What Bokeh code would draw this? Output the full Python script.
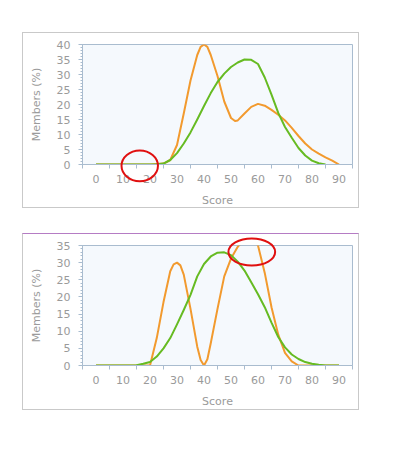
import numpy as np
from bokeh.plotting import figure
from bokeh.layouts import column, row
from bokeh.models import Range1d, FixedTicker, SingleIntervalTicker, Spacer, GridBox
from bokeh.embed import file_html
from bokeh.resources import INLINE

# ---------------- data ----------------
score_ticks = [0, 10, 20, 30, 40, 50, 60, 70, 80, 90]
score_minor = [-5, 5, 15, 25, 35, 45, 55, 65, 75, 85, 95]

top_orange_x = [0, 10, 20, 25, 27.5, 30, 32.5, 35, 37.5, 38.75, 40, 41.25, 42.5, 45, 47.5, 50,
                51.5, 52.5, 55, 57.5, 60, 62.5, 65, 67.5, 70, 72.5, 75, 77.5, 80, 82.5, 85, 87.5, 90]
top_orange_y = [0, 0, 0, 0.3, 1.5, 6.5, 17, 28, 36.5, 39.2, 40, 39.2, 36.5, 29.5, 21, 15.5,
                14.5, 14.7, 17, 19.2, 20.2, 19.6, 18.2, 16.6, 14.7, 12.2, 9.5, 7, 5, 3.6, 2.4, 1.3, 0]

top_green_x = [0, 10, 20, 22.5, 25, 27.5, 30, 32.5, 35, 37.5, 40, 42.5, 45, 47.5, 50, 52.5,
               55, 57.5, 60, 62.5, 65, 67.5, 70, 72.5, 75, 77.5, 80, 82.5, 85]
top_green_y = [0, 0, 0, 0.1, 0.3, 1.5, 3.8, 7, 10.7, 15, 19.5, 23.8, 27.5, 30.3, 32.5, 34,
               35, 34.9, 33.5, 29, 23.3, 17.2, 12.5, 8.9, 5.5, 3, 1.3, 0.4, 0]

bot_orange_x = [0, 10, 20, 22.5, 25, 27.5, 28.75, 30, 31.25, 32.5, 35, 37.5, 38.75, 40, 41.25,
                42.5, 45, 47.5, 50, 52.5, 55, 57.5, 60, 62.5, 65, 67.5, 70, 72.5, 75, 80, 90]
bot_orange_y = [0, 0, 0, 8, 18.5, 27.5, 29.5, 30, 29.2, 26.5, 16.5, 5.5, 1.6, 0, 1.8,
                6.5, 16.5, 26, 31.2, 34.6, 37, 37.5, 35, 27, 17, 9, 3.7, 1.2, 0, 0, 0]

bot_green_x = [0, 10, 15, 17.5, 20, 22.5, 25, 27.5, 30, 32.5, 35, 37.5, 40, 42.5, 45, 47.5,
               50, 52.5, 55, 57.5, 60, 62.5, 65, 67.5, 70, 72.5, 75, 77.5, 80, 82.5, 85, 90]
bot_green_y = [0, 0, 0.1, 0.5, 1, 2.6, 5, 8, 12, 16.2, 20.6, 26, 29.6, 31.8, 32.9, 33,
               32.2, 30.3, 27.7, 24.3, 20.8, 17, 12.5, 8.3, 5.3, 3.2, 1.9, 1, 0.5, 0.2, 0, 0]

# highlight ellipses (center x, center y, width, height in data units)
top_mark = (16.2, -0.45, 13.5, 10.2)
bot_mark = (57.7, 33.7, 17.3, 7.9)

ORANGE = "#f29a2e"
GREEN = "#66bb22"
AXIS = "#a9bccf"
TEXT = "#9a9a9a"
FONT = "DejaVu Sans"

# ---------------- geometry ----------------
PAD_L, PAD_T, GAP = 22, 32, 25
CW = 337                      # canvas width (plus 1px border each side)
H1, H2 = 176, 177             # canvas heights
BL, BR, BT = 59, 8, 11        # frame offsets inside canvas
FW, FH = CW - BL - BR, 120
XMIN, XMAX = -5, 95


def make_panel(ox, oy, gx, gy, ymax, height, border_top):
    p = figure(width=CW, height=height, output_backend="svg", toolbar_location=None,
               x_range=Range1d(XMIN, XMAX), y_range=Range1d(0, ymax),
               min_border_left=BL, min_border_right=BR, min_border_top=BT,
               min_border_bottom=height - BT - FH,
               background_fill_color="#f5f9fd", border_fill_color="white",
               outline_line_color=AXIS, outline_line_width=1,
               styles={"border": "1px solid #c9c9c9", "border-top": "1px solid " + border_top})
    p.xgrid.visible = False
    p.ygrid.visible = False

    xa = p.xaxis[0]
    xa.ticker = FixedTicker(ticks=score_ticks, minor_ticks=score_minor)
    xa.major_tick_out = 0
    xa.major_tick_in = 0
    xa.minor_tick_out = 4
    xa.minor_tick_in = 0
    xa.minor_tick_line_color = AXIS
    xa.axis_line_color = AXIS
    xa.major_label_standoff = 6
    xa.axis_label = "Score"
    xa.axis_label_standoff = 8

    ya = p.yaxis[0]
    ya.ticker = SingleIntervalTicker(interval=5, num_minor_ticks=5)
    ya.major_tick_out = 4
    ya.major_tick_in = 0
    ya.minor_tick_out = 2
    ya.minor_tick_in = 0
    ya.major_tick_line_color = AXIS
    ya.minor_tick_line_color = AXIS
    ya.axis_line_color = AXIS
    ya.major_label_standoff = 8
    ya.axis_label = "Members (%)"
    ya.axis_label_standoff = 11

    for ax in (xa, ya):
        ax.major_label_text_font = FONT
        ax.major_label_text_font_size = "11px"
        ax.major_label_text_color = TEXT
        ax.axis_label_text_font = FONT
        ax.axis_label_text_font_size = "11px"
        ax.axis_label_text_font_style = "normal"
        ax.axis_label_text_color = TEXT

    p.line(ox, oy, line_color=ORANGE, line_width=2, line_join="round")
    p.line(gx, gy, line_color=GREEN, line_width=2, line_join="round")
    return p


p1 = make_panel(top_orange_x, top_orange_y, top_green_x, top_green_y, 40, H1, "#c9c9c9")
p2 = make_panel(bot_orange_x, bot_orange_y, bot_green_x, bot_green_y, 35, H2, "#b57cc4")

main = column(Spacer(height=PAD_T),
              row(Spacer(width=PAD_L), p1),
              Spacer(height=GAP),
              row(Spacer(width=PAD_L), p2))

# ---------------- overlay for highlight ellipses (not clipped to frames) ----------------
TOTW = PAD_L + CW + 2
TOTH = PAD_T + H1 + 2 + GAP + H2 + 2
ov = figure(width=TOTW, height=TOTH, output_backend="svg", toolbar_location=None,
            x_range=Range1d(0, TOTW), y_range=Range1d(TOTH, 0),
            min_border=0, x_axis_location=None, y_axis_location=None,
            background_fill_alpha=0, border_fill_alpha=0, outline_line_color=None)
ov.xgrid.visible = False
ov.ygrid.visible = False

frames = [(PAD_T + 1 + BT, 40, top_mark), (PAD_T + H1 + 2 + GAP + 1 + BT, 35, bot_mark)]
ex, ey, ew, eh = [], [], [], []
for ftop, ymax, (cx, cy, w, h) in frames:
    fleft = PAD_L + 1 + BL
    ex.append(fleft + (cx - XMIN) / (XMAX - XMIN) * FW)
    ey.append(ftop + (ymax - cy) / ymax * FH)
    ew.append(w / (XMAX - XMIN) * FW)
    eh.append(h / ymax * FH)
ov.ellipse(x=ex, y=ey, width=ew, height=eh, fill_alpha=0, line_color="#e01010", line_width=2)

layout = GridBox(children=[(main, 0, 0), (ov, 0, 0)])

open("out.html", "w").write(file_html(layout, INLINE))
